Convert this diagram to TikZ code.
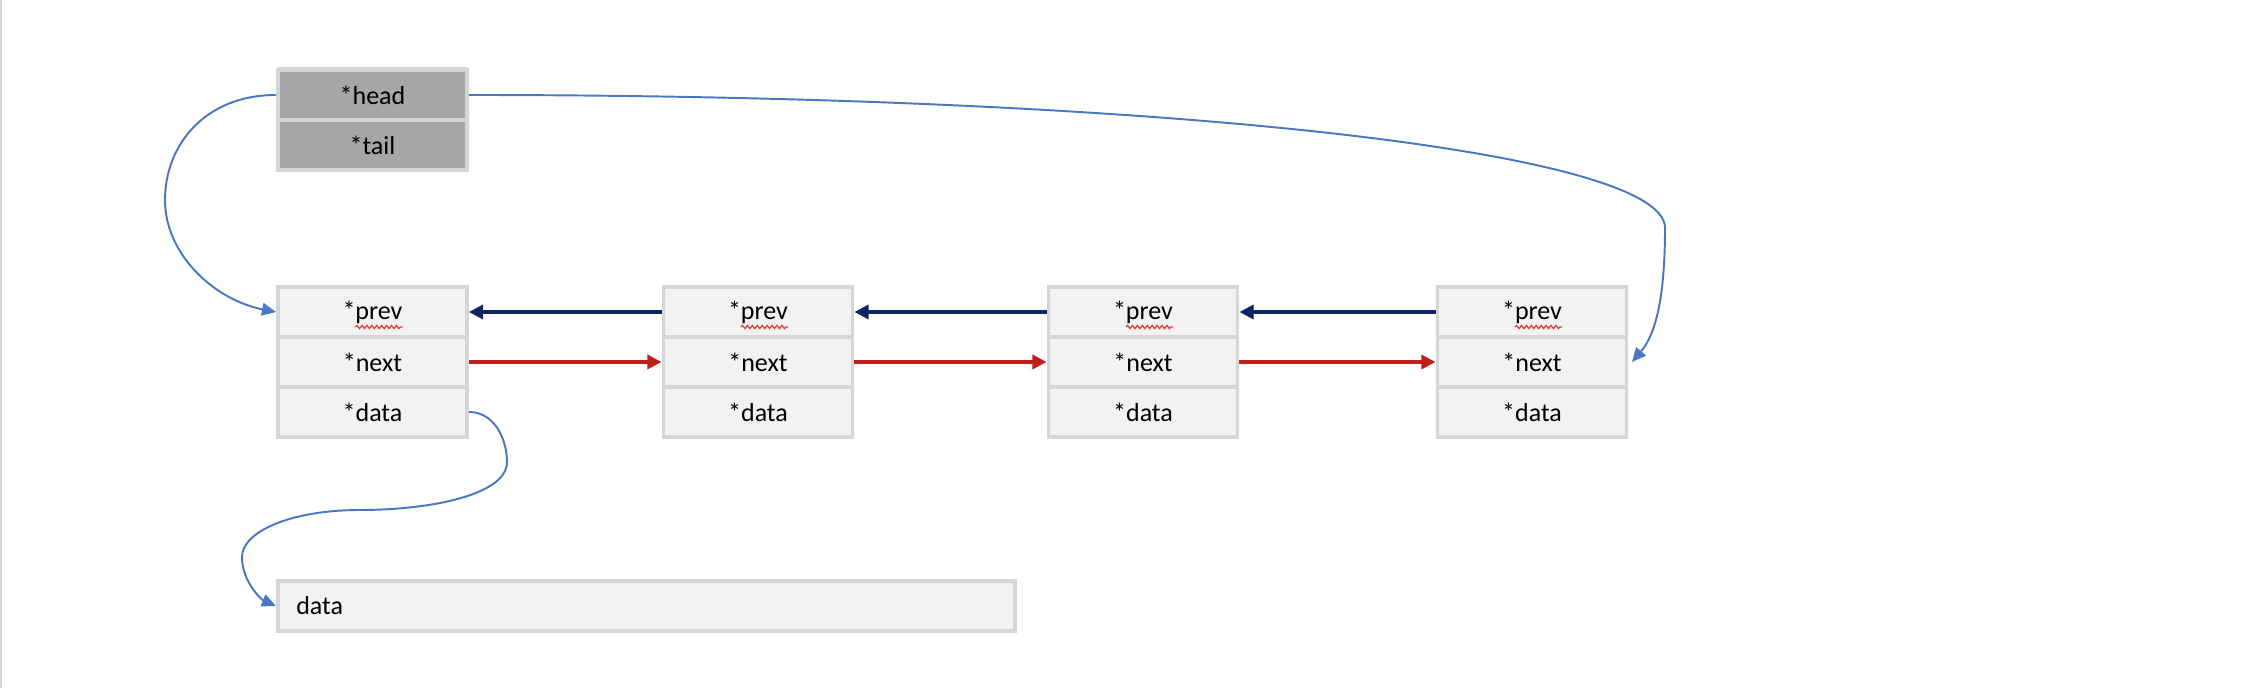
\documentclass[tikz,border=0pt]{standalone}
\usepackage{fontspec}
\setmainfont{Carlito}
\usetikzlibrary{arrows.meta,decorations.pathmorphing}
\definecolor{boxgray}{HTML}{D6D6D6}
\definecolor{cellfill}{HTML}{F2F2F2}
\definecolor{darkfill}{HTML}{A6A6A6}
\definecolor{navyline}{HTML}{0E2463}
\definecolor{redline}{HTML}{C0201C}
\definecolor{blueline}{HTML}{4A76C2}
\definecolor{squig}{HTML}{E53A2F}
\tikzset{
  cell/.style={draw=boxgray, line width=1.1pt, fill=cellfill, minimum width=1.89cm, minimum height=0.5cm, inner sep=0pt, font=\fontsize{7.4}{9}\selectfont, text=black},
  darkcell/.style={cell, fill=darkfill},
  navyarrow/.style={draw=navyline, line width=0.9pt, -{Triangle[length=4pt,width=4pt]}},
  redarrow/.style={draw=redline, line width=0.9pt, -{Triangle[length=4pt,width=4pt]}},
  bluearrow/.style={draw=blueline, line width=0.55pt, -{Triangle[length=4pt,width=3.6pt]}},
  squiggle/.style={draw=squig, line width=0.35pt, decorate, decoration={snake, amplitude=0.45pt, segment length=1.4pt}}
}
\begin{document}
\begin{tikzpicture}[x=0.01cm, y=-0.01cm]
\useasboundingbox (0,0) rectangle (2250,688);
\fill[white] (0,0) rectangle (2250,688);
\draw[boxgray, line width=0.6pt] (1,0) -- (1,688);
% list header
\fill[boxgray, rounded corners=1pt] (276,67) rectangle (469,172);
\node[darkcell] (head) at (372.5,95) {*head};
\node[darkcell] (tail) at (372.5,145) {*tail};
% list nodes
\foreach \i/\x in {1/372.5, 2/758, 3/1143, 4/1532} {
  \node[cell] (n\i p) at (\x,312) {*prev};
  \node[cell] (n\i n) at (\x,362) {*next};
  \node[cell] (n\i d) at (\x,412) {*data};
  \draw[squiggle] (\x-17,327) -- (\x+30,327);
}
% data box
\node[cell, minimum width=7.37cm, text width=7.0cm, align=left] (dbox) at (646.5,606) {data};
% prev arrows
\draw[navyarrow] (n2p.west) -- (n1p.east);
\draw[navyarrow] (n3p.west) -- (n2p.east);
\draw[navyarrow] (n4p.west) -- (n3p.east);
% next arrows
\draw[redarrow] (n1n.east) -- (n2n.west);
\draw[redarrow] (n2n.east) -- (n3n.west);
\draw[redarrow] (n3n.east) -- (n4n.west);
% head -> first node
\draw[bluearrow] (head.west) .. controls (205,95) and (165,145) .. (165,200) .. controls (165,255) and (215,300) .. (n1p.west);
% tail pointer curve from head to last node
\draw[bluearrow] (head.east) .. controls (1150,95) and (1665,150) .. (1665,228) .. controls (1665,300) and (1655,335) .. ([xshift=1pt]n4n.east);
% data pointer
\draw[bluearrow] (n1d.east) .. controls (495,412) and (507,440) .. (507,462) .. controls (507,495) and (430,510) .. (360,510) .. controls (290,510) and (242,532) .. (242,557) .. controls (242,582) and (262,600) .. (dbox.west);
\end{tikzpicture}
\end{document}
